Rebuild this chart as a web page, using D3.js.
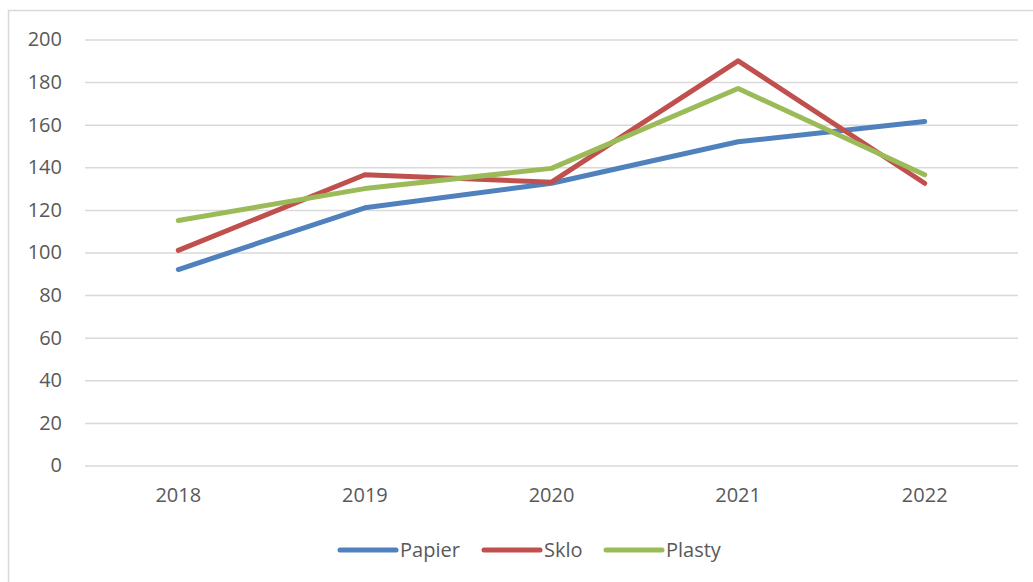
<!DOCTYPE html>
<html>
<head>
<meta charset="utf-8">
<script src="https://cdn.jsdelivr.net/npm/d3@7"></script>
<style>
  html, body { margin: 0; padding: 0; background: #fff; }
  svg { display: block; }
  text { font-family: "Open Sans", sans-serif; fill: #595959; }
</style>
</head>
<body>
<svg id="chart" width="1033" height="582"></svg>
<script>
const categories = ["2018", "2019", "2020", "2021", "2022"];
const papier = [92, 121, 132.5, 152, 161.5];
const sklo = [101, 136.5, 133, 190, 132.5];
const plasty = [115, 130, 139.5, 177, 136.5];
const seriesNames = ["Papier", "Sklo", "Plasty"];
const yTicks = [0, 20, 40, 60, 80, 100, 120, 140, 160, 180, 200];

const colors = ["#4f81bd", "#c0504d", "#9bbb59"];
const series = [papier, sklo, plasty].map((v, i) => ({ name: seriesNames[i], values: v, color: colors[i] }));

const svg = d3.select("#chart");

// chart border
svg.append("rect")
  .attr("x", 8.5).attr("y", 10.5)
  .attr("width", 1040).attr("height", 600)
  .attr("fill", "none").attr("stroke", "#d9d9d9").attr("stroke-width", 1.5);

const mLeft = 85, mRight = 1018, mTop = 39.5, mBottom = 465.5;

const x = d3.scaleBand().domain(categories).range([mLeft, mRight]).padding(0);
const y = d3.scaleLinear().domain([0, 200]).range([mBottom, mTop]);

// gridlines + y labels
const yAxis = d3.axisLeft(y).tickValues(yTicks).tickSize(-(mRight - mLeft)).tickPadding(23);
const gy = svg.append("g").attr("transform", `translate(${mLeft},0)`).call(yAxis);
gy.select(".domain").remove();
gy.selectAll(".tick line").attr("stroke", "#d9d9d9").attr("stroke-width", 1.5);
gy.selectAll(".tick text")
  .attr("font-size", 20).attr("font-family", "Open Sans, sans-serif").attr("fill", "#595959");

// x labels
const xAxis = d3.axisBottom(x).tickSize(0).tickPadding(22);
const gx = svg.append("g").attr("transform", `translate(0,${mBottom})`).call(xAxis);
gx.select(".domain").remove();
gx.selectAll(".tick text")
  .attr("font-size", 20).attr("font-family", "Open Sans, sans-serif").attr("fill", "#595959");

// lines
const line = d3.line()
  .x((d, i) => x(categories[i]) + x.bandwidth() / 2)
  .y(d => y(d));

svg.append("g").selectAll("path")
  .data(series)
  .join("path")
  .attr("d", d => line(d.values))
  .attr("fill", "none")
  .attr("stroke", d => d.color)
  .attr("stroke-width", 5)
  .attr("stroke-linecap", "round")
  .attr("stroke-linejoin", "round");

// legend
const legendX = [340, 484, 606];
const legendY = 550;
const lg = svg.append("g").selectAll("g")
  .data(series)
  .join("g")
  .attr("transform", (d, i) => `translate(${legendX[i]},${legendY})`);
lg.append("line")
  .attr("x1", 0).attr("x2", 56).attr("y1", 0).attr("y2", 0)
  .attr("stroke", d => d.color).attr("stroke-width", 5).attr("stroke-linecap", "round");
lg.append("text")
  .attr("x", 60).attr("y", 0).attr("dy", "0.35em")
  .attr("font-size", 20)
  .text(d => d.name);
</script>
</body>
</html>
